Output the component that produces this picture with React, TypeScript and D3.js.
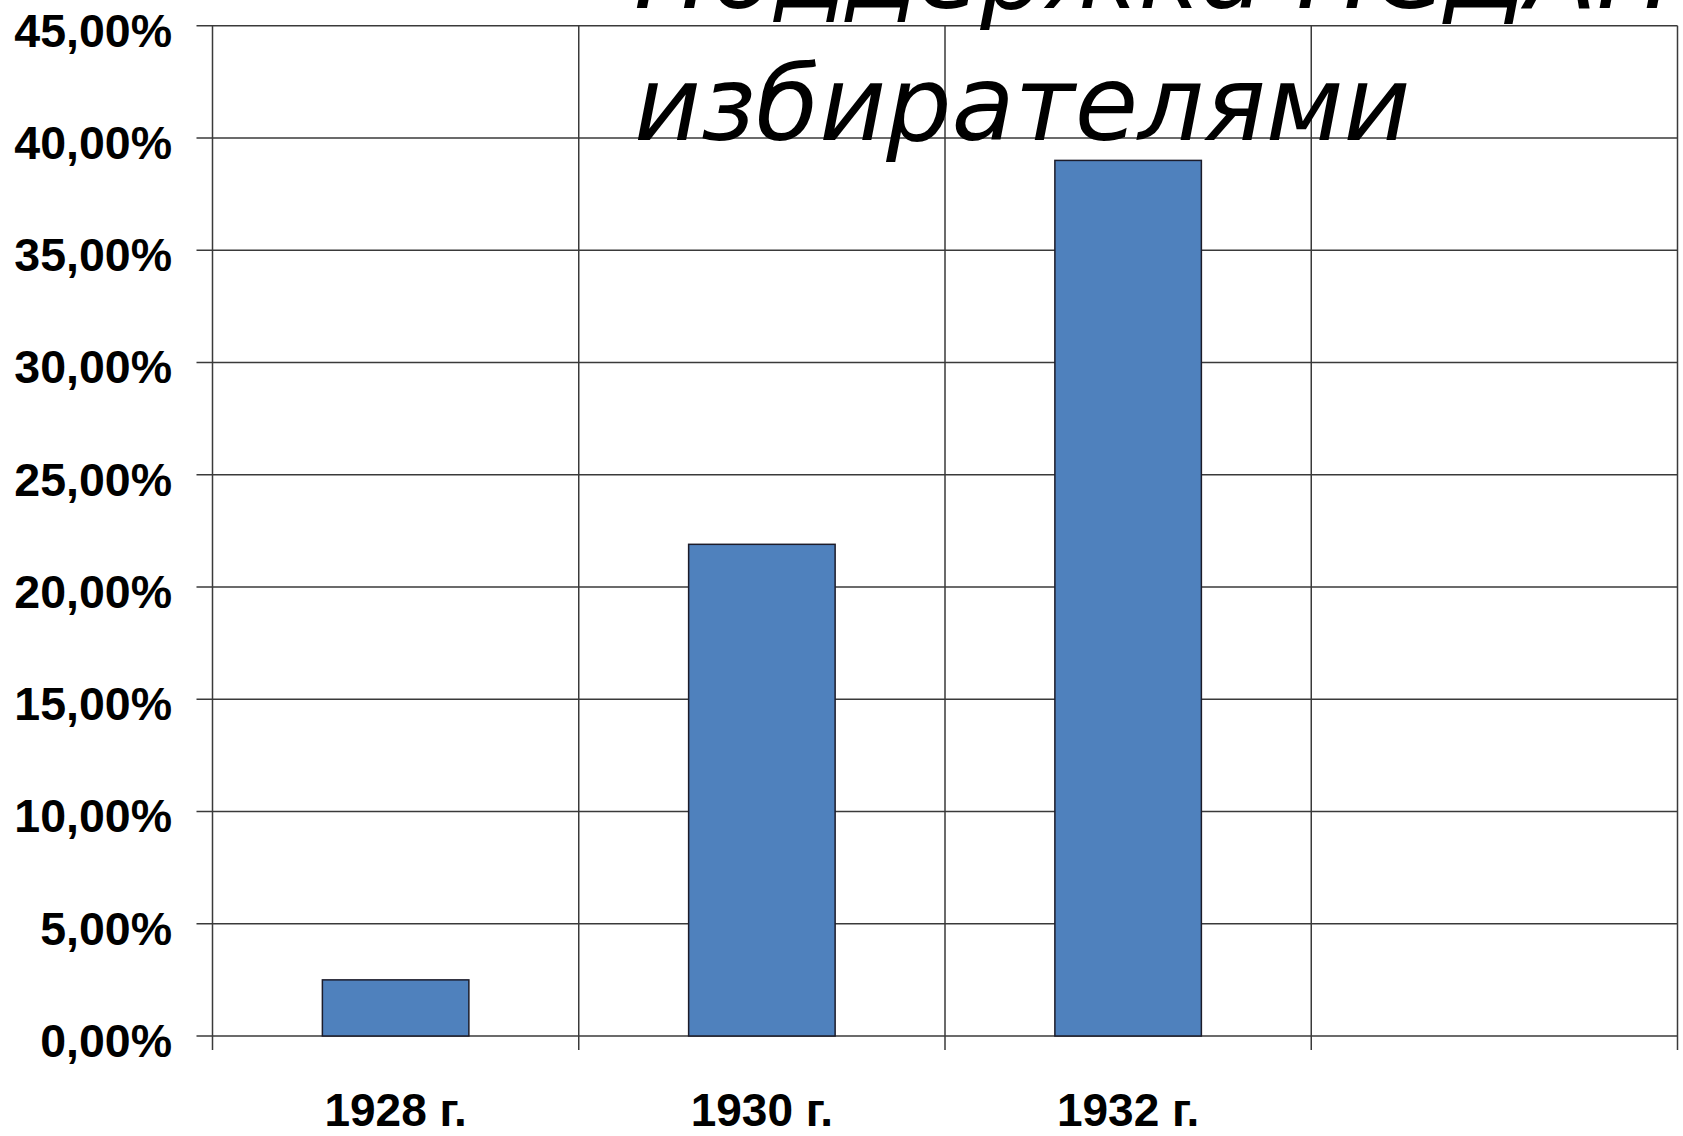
import React from 'react';
import * as d3 from 'd3';

const categories = ['1928 г.', '1930 г.', '1932 г.', ''];
const support = [2.5, 21.9, 39.0];
const yTicks = [0, 5, 10, 15, 20, 25, 30, 35, 40, 45];
const titleLines = ['Поддержка НСДАП', 'избирателями'];

const width = 1683;
const height = 1136;
const plot = { left: 212.5, right: 1677.5, top: 25.7, bottom: 1036 };

const locale = d3.formatLocale({ decimal: ',', thousands: ' ', grouping: [3], currency: ['', ''] });
const fmt = locale.format('.2f');

export default function App() {
  const x = d3.scaleBand<string>()
    .domain(categories.map((c, i) => String(i)))
    .range([plot.left, plot.right])
    .paddingInner(0.6)
    .paddingOuter(0.3);
  const y = d3.scaleLinear().domain([0, 45]).range([plot.bottom, plot.top]);
  const step = x.step();
  const bounds = d3.range(categories.length + 1).map(i => plot.left + i * step);
  const gridColor = '#3a3a3a';

  return (
    <svg width={width} height={height} style={{ position: 'absolute', left: 0, top: 0, background: '#fff' }}>
      {/* horizontal grid + y ticks */}
      {yTicks.map(t => (
        <g key={t}>
          <line x1={plot.left - 16} x2={plot.right} y1={y(t)} y2={y(t)} stroke={gridColor} strokeWidth={1.5} />
          <text x={172} y={y(t) + 21} textAnchor="end" fontFamily="'Liberation Sans', Arial, sans-serif"
            fontWeight="bold" fontSize={46.5} fill="#000">{fmt(t)}%</text>
        </g>
      ))}
      {/* vertical grid + x ticks */}
      {bounds.map((b, i) => (
        <line key={i} x1={b} x2={b} y1={plot.top} y2={plot.bottom + 14} stroke={gridColor} strokeWidth={1.5} />
      ))}
      {/* bars */}
      {support.map((v, i) => (
        <rect key={i} x={x(String(i))} y={y(v)} width={x.bandwidth()} height={y(0) - y(v)}
          fill="#4F81BD" stroke="#1c1c2a" strokeWidth={1.5} />
      ))}
      {/* category labels */}
      {categories.map((c, i) => (
        <text key={i} x={(x(String(i)) as number) + x.bandwidth() / 2} y={1126} textAnchor="middle"
          fontFamily="'Liberation Sans', Arial, sans-serif" fontWeight="bold" fontSize={46} fill="#000">{c}</text>
      ))}
      {/* title */}
      {titleLines.map((t, i) => (
        <text key={t} x={634} y={8 + i * 131.5} fontFamily="'DejaVu Sans', Verdana, sans-serif"
          fontStyle="italic" fontSize={103} fill="#000">{t}</text>
      ))}
    </svg>
  );
}
